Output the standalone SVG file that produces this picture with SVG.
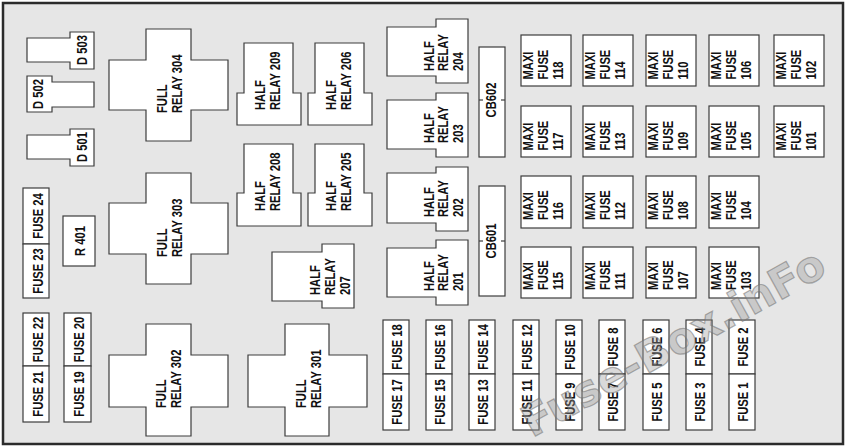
<svg xmlns="http://www.w3.org/2000/svg" width="850" height="448" viewBox="0 0 850 448">
<style>
.bg{fill:#e6e6e6;stroke:#2b2b2b;stroke-width:2.5}
.b{fill:#fff;stroke:#3c3c3c;stroke-width:1.2}
.tk{stroke:#3c3c3c;stroke-width:1.2}
.t{font-family:"Liberation Sans",Arial,sans-serif;font-weight:bold;font-size:14px;fill:#111}
.c{text-anchor:middle}
.wm{font-family:"DejaVu Sans",sans-serif;font-weight:bold;font-size:43px;fill:#9a9a9a;fill-opacity:0.4;stroke:#707070;stroke-opacity:0.55;stroke-width:1.2}
</style>
<rect class="bg" x="3" y="3" width="840" height="441"/>

<g id="D503"><polygon class="b" points="27,38 70,38 70,32 94,32 94,69 70,69 70,62 27,62"/><text class="t c" transform="translate(87,50) rotate(-90) scale(0.8,1)">D 503</text></g>
<g id="D502"><polygon class="b" points="27,76 52,76 52,82 94,82 94,107 52,107 52,112 27,112"/><text class="t c" transform="translate(43,94) rotate(-90) scale(0.8,1)">D 502</text></g>
<g id="D501"><polygon class="b" points="27,135 70,135 70,129 94,129 94,166 70,166 70,159 27,159"/><text class="t c" transform="translate(87,147) rotate(-90) scale(0.8,1)">D 501</text></g>

<g id="FR304"><polygon class="b" points="146,29 191,29 191,60 228,60 228,110 191,110 191,141 146,141 146,110 109,110 109,60 146,60"/><text class="t" transform="translate(167,113) rotate(-90) scale(0.8,1)"><tspan x="0" y="0">FULL</tspan><tspan x="0" y="15">RELAY 304</tspan></text></g>
<g id="FR303"><polygon class="b" points="146,173 191,173 191,203 228,203 228,254 191,254 191,284 146,284 146,254 109,254 109,203 146,203"/><text class="t" transform="translate(167,257) rotate(-90) scale(0.8,1)"><tspan x="0" y="0">FULL</tspan><tspan x="0" y="15">RELAY 303</tspan></text></g>
<g id="FR302"><polygon class="b" points="146,324 191,324 191,355 228,355 228,407 191,407 191,436 146,436 146,407 109,407 109,355 146,355"/><text class="t" transform="translate(166,408) rotate(-90) scale(0.8,1)"><tspan x="0" y="0">FULL</tspan><tspan x="0" y="15">RELAY 302</tspan></text></g>
<g id="FR301"><polygon class="b" points="285,324 329,324 329,355 367,355 367,407 329,407 329,436 285,436 285,407 248,407 248,355 285,355"/><text class="t" transform="translate(306,408) rotate(-90) scale(0.8,1)"><tspan x="0" y="0">FULL</tspan><tspan x="0" y="15">RELAY 301</tspan></text></g>

<g id="HR209"><polygon class="b" points="244,43 293,43 293,93 301,93 301,125 237,125 237,93 244,93"/><text class="t" transform="translate(265,110) rotate(-90) scale(0.8,1)"><tspan x="0" y="0">HALF</tspan><tspan x="0" y="15.5">RELAY 209</tspan></text></g>
<g id="HR206"><polygon class="b" points="315,43 364,43 364,93 372,93 372,125 308,125 308,93 315,93"/><text class="t" transform="translate(336,110) rotate(-90) scale(0.8,1)"><tspan x="0" y="0">HALF</tspan><tspan x="0" y="15.5">RELAY 206</tspan></text></g>
<g id="HR208"><polygon class="b" points="244,144 293,144 293,193 301,193 301,226 237,226 237,193 244,193"/><text class="t" transform="translate(265,211) rotate(-90) scale(0.8,1)"><tspan x="0" y="0">HALF</tspan><tspan x="0" y="15.5">RELAY 208</tspan></text></g>
<g id="HR205"><polygon class="b" points="315,144 364,144 364,193 372,193 372,226 308,226 308,193 315,193"/><text class="t" transform="translate(336,211) rotate(-90) scale(0.8,1)"><tspan x="0" y="0">HALF</tspan><tspan x="0" y="15.5">RELAY 205</tspan></text></g>
<g id="HR207"><polygon class="b" points="272,252 322,252 322,244 354,244 354,308 322,308 322,301 272,301"/><text class="t" transform="translate(320,295) rotate(-90) scale(0.8,1)"><tspan x="0" y="0">HALF</tspan><tspan x="0" y="15">RELAY</tspan><tspan x="0" y="30.5">207</tspan></text></g>

<g id="HR204"><polygon class="b" points="387,27 436,27 436,19 468,19 468,83 436,83 436,76 387,76"/><text class="t" transform="translate(434,71) rotate(-90) scale(0.8,1)"><tspan x="0" y="0">HALF</tspan><tspan x="0" y="14.5">RELAY</tspan><tspan x="0" y="29">204</tspan></text></g>
<g id="HR203"><polygon class="b" points="387,100 436,100 436,93 468,93 468,157 436,157 436,149 387,149"/><text class="t" transform="translate(434,143) rotate(-90) scale(0.8,1)"><tspan x="0" y="0">HALF</tspan><tspan x="0" y="14.5">RELAY</tspan><tspan x="0" y="29">203</tspan></text></g>
<g id="HR202"><polygon class="b" points="387,173 436,173 436,167 468,167 468,231 436,231 436,223 387,223"/><text class="t" transform="translate(434,217) rotate(-90) scale(0.8,1)"><tspan x="0" y="0">HALF</tspan><tspan x="0" y="14.5">RELAY</tspan><tspan x="0" y="29">202</tspan></text></g>
<g id="HR201"><polygon class="b" points="387,248 436,248 436,240 468,240 468,305 436,305 436,297 387,297"/><text class="t" transform="translate(434,291) rotate(-90) scale(0.8,1)"><tspan x="0" y="0">HALF</tspan><tspan x="0" y="14.5">RELAY</tspan><tspan x="0" y="29">201</tspan></text></g>

<g id="CB602"><rect class="b" x="479" y="47" width="26" height="110"/><line class="tk" x1="479" y1="100" x2="483" y2="100"/><line class="tk" x1="501" y1="100" x2="505" y2="100"/><text class="t c" transform="translate(496,100) rotate(-90) scale(0.8,1)">CB602</text></g>
<g id="CB601"><rect class="b" x="479" y="186" width="26" height="110"/><line class="tk" x1="479" y1="241" x2="483" y2="241"/><line class="tk" x1="501" y1="241" x2="505" y2="241"/><text class="t c" transform="translate(496,241) rotate(-90) scale(0.8,1)">CB601</text></g>

<g id="MF118"><rect class="b" x="521" y="35" width="50" height="51"/><text class="t" transform="translate(533,79.5) rotate(-90) scale(0.8,1)"><tspan x="0" y="0">MAXI</tspan><tspan x="0" y="15">FUSE</tspan><tspan x="0" y="30">118</tspan></text></g>
<g id="MF114"><rect class="b" x="583" y="35" width="50" height="51"/><text class="t" transform="translate(595,79.5) rotate(-90) scale(0.8,1)"><tspan x="0" y="0">MAXI</tspan><tspan x="0" y="15">FUSE</tspan><tspan x="0" y="30">114</tspan></text></g>
<g id="MF110"><rect class="b" x="646" y="35" width="50" height="51"/><text class="t" transform="translate(658,79.5) rotate(-90) scale(0.8,1)"><tspan x="0" y="0">MAXI</tspan><tspan x="0" y="15">FUSE</tspan><tspan x="0" y="30">110</tspan></text></g>
<g id="MF106"><rect class="b" x="709" y="35" width="50" height="51"/><text class="t" transform="translate(721,79.5) rotate(-90) scale(0.8,1)"><tspan x="0" y="0">MAXI</tspan><tspan x="0" y="15">FUSE</tspan><tspan x="0" y="30">106</tspan></text></g>
<g id="MF102"><rect class="b" x="774" y="35" width="50" height="51"/><text class="t" transform="translate(786,79.5) rotate(-90) scale(0.8,1)"><tspan x="0" y="0">MAXI</tspan><tspan x="0" y="15">FUSE</tspan><tspan x="0" y="30">102</tspan></text></g>

<g id="MF117"><rect class="b" x="521" y="106" width="50" height="51"/><text class="t" transform="translate(533,150.5) rotate(-90) scale(0.8,1)"><tspan x="0" y="0">MAXI</tspan><tspan x="0" y="15">FUSE</tspan><tspan x="0" y="30">117</tspan></text></g>
<g id="MF113"><rect class="b" x="583" y="106" width="50" height="51"/><text class="t" transform="translate(595,150.5) rotate(-90) scale(0.8,1)"><tspan x="0" y="0">MAXI</tspan><tspan x="0" y="15">FUSE</tspan><tspan x="0" y="30">113</tspan></text></g>
<g id="MF109"><rect class="b" x="646" y="106" width="50" height="51"/><text class="t" transform="translate(658,150.5) rotate(-90) scale(0.8,1)"><tspan x="0" y="0">MAXI</tspan><tspan x="0" y="15">FUSE</tspan><tspan x="0" y="30">109</tspan></text></g>
<g id="MF105"><rect class="b" x="709" y="106" width="50" height="51"/><text class="t" transform="translate(721,150.5) rotate(-90) scale(0.8,1)"><tspan x="0" y="0">MAXI</tspan><tspan x="0" y="15">FUSE</tspan><tspan x="0" y="30">105</tspan></text></g>
<g id="MF101"><rect class="b" x="774" y="106" width="50" height="51"/><text class="t" transform="translate(786,150.5) rotate(-90) scale(0.8,1)"><tspan x="0" y="0">MAXI</tspan><tspan x="0" y="15">FUSE</tspan><tspan x="0" y="30">101</tspan></text></g>

<g id="MF116"><rect class="b" x="521" y="176" width="50" height="52"/><text class="t" transform="translate(533,220) rotate(-90) scale(0.8,1)"><tspan x="0" y="0">MAXI</tspan><tspan x="0" y="15">FUSE</tspan><tspan x="0" y="30">116</tspan></text></g>
<g id="MF112"><rect class="b" x="583" y="176" width="50" height="52"/><text class="t" transform="translate(595,220) rotate(-90) scale(0.8,1)"><tspan x="0" y="0">MAXI</tspan><tspan x="0" y="15">FUSE</tspan><tspan x="0" y="30">112</tspan></text></g>
<g id="MF108"><rect class="b" x="646" y="176" width="50" height="52"/><text class="t" transform="translate(658,220) rotate(-90) scale(0.8,1)"><tspan x="0" y="0">MAXI</tspan><tspan x="0" y="15">FUSE</tspan><tspan x="0" y="30">108</tspan></text></g>
<g id="MF104"><rect class="b" x="709" y="176" width="50" height="52"/><text class="t" transform="translate(721,220) rotate(-90) scale(0.8,1)"><tspan x="0" y="0">MAXI</tspan><tspan x="0" y="15">FUSE</tspan><tspan x="0" y="30">104</tspan></text></g>

<g id="MF115"><rect class="b" x="521" y="247" width="50" height="51"/><text class="t" transform="translate(533,290) rotate(-90) scale(0.8,1)"><tspan x="0" y="0">MAXI</tspan><tspan x="0" y="15">FUSE</tspan><tspan x="0" y="30">115</tspan></text></g>
<g id="MF111"><rect class="b" x="583" y="247" width="50" height="51"/><text class="t" transform="translate(595,290) rotate(-90) scale(0.8,1)"><tspan x="0" y="0">MAXI</tspan><tspan x="0" y="15">FUSE</tspan><tspan x="0" y="30">111</tspan></text></g>
<g id="MF107"><rect class="b" x="646" y="247" width="50" height="51"/><text class="t" transform="translate(658,290) rotate(-90) scale(0.8,1)"><tspan x="0" y="0">MAXI</tspan><tspan x="0" y="15">FUSE</tspan><tspan x="0" y="30">107</tspan></text></g>
<g id="MF103"><rect class="b" x="709" y="247" width="50" height="51"/><text class="t" transform="translate(721,290) rotate(-90) scale(0.8,1)"><tspan x="0" y="0">MAXI</tspan><tspan x="0" y="15">FUSE</tspan><tspan x="0" y="30">103</tspan></text></g>

<g id="F24"><rect class="b" x="23" y="188" width="26" height="56"/><text class="t c" transform="translate(42.5,216) rotate(-90) scale(0.8,1)">FUSE 24</text></g>
<g id="F23"><rect class="b" x="23" y="244" width="26" height="54"/><text class="t c" transform="translate(42.5,271) rotate(-90) scale(0.8,1)">FUSE 23</text></g>
<g id="R401"><rect class="b" x="63" y="216" width="32" height="50"/><text class="t c" transform="translate(85,241) rotate(-90) scale(0.8,1)">R 401</text></g>
<g id="F22"><rect class="b" x="23" y="313" width="26" height="53"/><text class="t c" transform="translate(42.5,339.5) rotate(-90) scale(0.8,1)">FUSE 22</text></g>
<g id="F21"><rect class="b" x="23" y="366" width="26" height="56"/><text class="t c" transform="translate(42.5,394) rotate(-90) scale(0.8,1)">FUSE 21</text></g>
<g id="F20"><rect class="b" x="64" y="313" width="27" height="53"/><text class="t c" transform="translate(84,339.5) rotate(-90) scale(0.8,1)">FUSE 20</text></g>
<g id="F19"><rect class="b" x="64" y="366" width="27" height="56"/><text class="t c" transform="translate(84,394) rotate(-90) scale(0.8,1)">FUSE 19</text></g>

<g id="F18"><rect class="b" x="383" y="320" width="26" height="54"/><text class="t c" transform="translate(401.5,347) rotate(-90) scale(0.8,1)">FUSE 18</text></g>
<g id="F17"><rect class="b" x="383" y="374" width="26" height="56"/><text class="t c" transform="translate(401.5,402) rotate(-90) scale(0.8,1)">FUSE 17</text></g>
<g id="F16"><rect class="b" x="426" y="320" width="26" height="54"/><text class="t c" transform="translate(444.5,347) rotate(-90) scale(0.8,1)">FUSE 16</text></g>
<g id="F15"><rect class="b" x="426" y="374" width="26" height="56"/><text class="t c" transform="translate(444.5,402) rotate(-90) scale(0.8,1)">FUSE 15</text></g>
<g id="F14"><rect class="b" x="469" y="320" width="26" height="54"/><text class="t c" transform="translate(487.5,347) rotate(-90) scale(0.8,1)">FUSE 14</text></g>
<g id="F13"><rect class="b" x="469" y="374" width="26" height="56"/><text class="t c" transform="translate(487.5,402) rotate(-90) scale(0.8,1)">FUSE 13</text></g>
<g id="F12"><rect class="b" x="513" y="320" width="26" height="54"/><text class="t c" transform="translate(531.5,347) rotate(-90) scale(0.8,1)">FUSE 12</text></g>
<g id="F11"><rect class="b" x="513" y="374" width="26" height="56"/><text class="t c" transform="translate(531.5,402) rotate(-90) scale(0.8,1)">FUSE 11</text></g>
<g id="F10"><rect class="b" x="556" y="320" width="26" height="54"/><text class="t c" transform="translate(574.5,347) rotate(-90) scale(0.8,1)">FUSE 10</text></g>
<g id="F9"><rect class="b" x="556" y="374" width="26" height="56"/><text class="t c" transform="translate(574.5,402) rotate(-90) scale(0.8,1)">FUSE 9</text></g>
<g id="F8"><rect class="b" x="599" y="320" width="26" height="54"/><text class="t c" transform="translate(617.5,347) rotate(-90) scale(0.8,1)">FUSE 8</text></g>
<g id="F7"><rect class="b" x="599" y="374" width="26" height="56"/><text class="t c" transform="translate(617.5,402) rotate(-90) scale(0.8,1)">FUSE 7</text></g>
<g id="F6"><rect class="b" x="643" y="320" width="26" height="54"/><text class="t c" transform="translate(661.5,347) rotate(-90) scale(0.8,1)">FUSE 6</text></g>
<g id="F5"><rect class="b" x="643" y="374" width="26" height="56"/><text class="t c" transform="translate(661.5,402) rotate(-90) scale(0.8,1)">FUSE 5</text></g>
<g id="F4"><rect class="b" x="686" y="320" width="26" height="54"/><text class="t c" transform="translate(704.5,347) rotate(-90) scale(0.8,1)">FUSE 4</text></g>
<g id="F3"><rect class="b" x="686" y="374" width="26" height="56"/><text class="t c" transform="translate(704.5,402) rotate(-90) scale(0.8,1)">FUSE 3</text></g>
<g id="F2"><rect class="b" x="729" y="320" width="26" height="54"/><text class="t c" transform="translate(747.5,347) rotate(-90) scale(0.8,1)">FUSE 2</text></g>
<g id="F1"><rect class="b" x="729" y="374" width="26" height="56"/><text class="t c" transform="translate(747.5,402) rotate(-90) scale(0.8,1)">FUSE 1</text></g>

<g id="connectors"/>
<text class="wm" transform="translate(532,438) rotate(-29)">Fuse-Box.inFo</text>
</svg>
